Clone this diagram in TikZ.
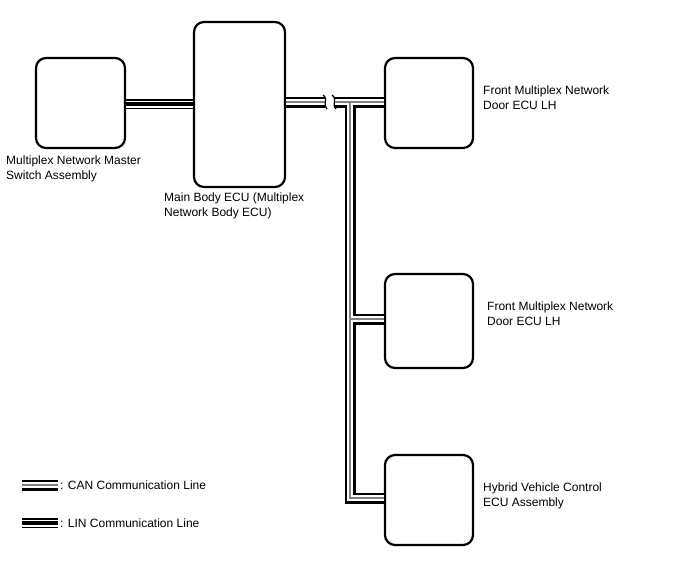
\documentclass[tikz,border=0pt]{standalone}
\usepackage{fontspec}
\setmainfont{Liberation Sans}
\begin{document}
\begin{tikzpicture}[x=1pt,y=-1pt,
  ecu/.style 2 args={draw, line width=2.2pt, rounded corners=10pt, inner sep=0pt,
    minimum width=#1, minimum height=#2},
  lbl/.style={anchor=north west, inner sep=0pt, align=left,
    font=\fontsize{12pt}{14.5pt}\selectfont},
  canout/.style={line width=11pt, black},
  canmid/.style={line width=5.6pt, white},
  cancore/.style={line width=1.6pt, black!50},
  linout/.style={line width=10pt, black},
  linmid/.style={line width=7pt, white},
  lincore/.style={line width=3.2pt, black},
  brk/.style={line width=1.2pt, black}]
\useasboundingbox (0,0) rectangle (688,560);
% units
\node[ecu={89pt}{90pt}]  (ms) at (80.5,103) {};
\node[ecu={91pt}{165pt}] (mb) at (239.5,104.5) {};
\node[ecu={88pt}{90pt}]  (d1) at (429,103) {};
\node[ecu={88pt}{94pt}]  (d2) at (429,321) {};
\node[ecu={88pt}{90pt}]  (hv) at (429,500) {};
% labels
\node[lbl] (tms) at (6,156) {Multiplex Network Master\\Switch Assembly};
\node[lbl] (tmb) at (164,193) {Main Body ECU (Multiplex\\Network Body ECU)};
\node[lbl] (td1) at (483,86) {Front Multiplex Network\\Door ECU LH};
\node[lbl] (td2) at (487,302) {Front Multiplex Network\\Door ECU LH};
\node[lbl] (thv) at (483,483) {Hybrid Vehicle Control\\ECU Assembly};
% coordinates
\coordinate (j0) at (350,102);
\coordinate (j2) at (350,319);
\coordinate (j3) at (350,498);
\coordinate (k1) at (325,102);
\coordinate (k2) at (334,102);
\coordinate (lj) at (0,104);
\coordinate (lcA) at (22,485);
\coordinate (lcB) at (58,485);
\coordinate (llA) at (22,523);
\coordinate (llB) at (58,523);
\def\cannet{(mb.east |- j0) -- (k1) (k2) -- (d1.west |- j0) (j0) -- (j3) -- (hv.west |- j3) (j2) -- (d2.west |- j2) (lcA) -- (lcB)}
\def\linnet{(ms.east |- lj) -- (mb.west |- lj) (llA) -- (llB)}
% CAN lines
\draw[canout] \cannet;
\draw[canmid] \cannet;
\draw[cancore] \cannet;
% LIN lines
\draw[linout] \linnet;
\draw[linmid] \linnet;
\draw[lincore] \linnet;
% break marks
\draw[brk] ([shift={(-2,-7)}]k1) .. controls ([shift={(4,-3)}]k1) and ([shift={(-3,3)}]k1) .. ([shift={(2,7)}]k1);
\draw[brk] ([shift={(-2,-7)}]k2) .. controls ([shift={(4,-3)}]k2) and ([shift={(-3,3)}]k2) .. ([shift={(2,7)}]k2);
% legend text
\node[lbl, anchor=west] (tcan) at (60,485) {: CAN Communication Line};
\node[lbl, anchor=west] (tlin) at (60,523) {: LIN Communication Line};
\end{tikzpicture}
\end{document}
